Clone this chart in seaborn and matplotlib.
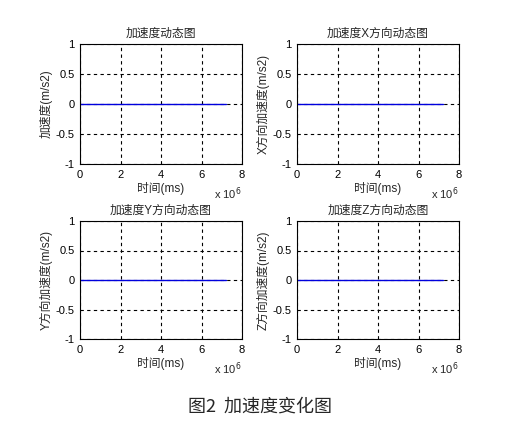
import matplotlib
matplotlib.use("Agg")
import matplotlib.pyplot as plt
import seaborn as sns
import pandas as pd

# data: all four series stay at 0 up to about 7.2e6 ms
time_ms = [0, 1.2e6, 2.4e6, 3.6e6, 4.8e6, 6.0e6, 7.2e6]
acc_total = [0, 0, 0, 0, 0, 0, 0]
acc_x = [0, 0, 0, 0, 0, 0, 0]
acc_y = [0, 0, 0, 0, 0, 0, 0]
acc_z = [0, 0, 0, 0, 0, 0, 0]

titles = ["加速度动态图", "加速度X方向动态图", "加速度Y方向动态图", "加速度Z方向动态图"]
ylabels = ["加速度(m/s2)", "X方向加速度(m/s2)", "Y方向加速度(m/s2)", "Z方向加速度(m/s2)"]
xticks = [0, 2e6, 4e6, 6e6, 8e6]
xtick_labels = ["0", "2", "4", "6", "8"]
yticks = [-1, -0.5, 0, 0.5, 1]
ytick_labels = ["-1", "-0.5", "0", "0.5", "1"]
caption = "图2  加速度变化图"

sns.set_style("white")
plt.rcParams["font.family"] = ["Liberation Sans", "Noto Sans CJK SC", "DejaVu Sans"]
plt.rcParams["axes.unicode_minus"] = False

fig = plt.figure(figsize=(5.29, 4.28), dpi=100)
W, H = 529, 428
# axes boxes in pixels: left, top, right, bottom
boxes = [(80, 44, 242, 164), (297, 44, 459, 164),
         (80, 221, 242, 339), (297, 221, 459, 339)]
series = [acc_total, acc_x, acc_y, acc_z]

for box, vals, title, ylab in zip(boxes, series, titles, ylabels):
    l, t, r, b = box
    ax = fig.add_axes([l / W, 1 - b / H, (r - l) / W, (b - t) / H])
    df = pd.DataFrame({"t": time_ms, "a": vals})
    sns.lineplot(data=df, x="t", y="a", ax=ax, color="#0000dd", linewidth=1.0)
    ax.set_xlim(0, 8e6)
    ax.set_ylim(-1, 1)
    ax.set_xticks(xticks)
    ax.set_xticklabels(xtick_labels)
    ax.set_yticks(yticks)
    ax.set_yticklabels(ytick_labels)
    ax.grid(True, color="black", linestyle=(0, (3, 3)), linewidth=0.8)
    ax.tick_params(direction="in", length=3, labelsize=8, colors="black", pad=4)
    for s in ax.spines.values():
        s.set_color("black")
        s.set_linewidth(0.8)
    ax.set_title(title, fontsize=8.5, pad=5)
    ax.set_xlabel("时间(ms)", fontsize=8.5, labelpad=2)
    ax.set_ylabel(ylab, fontsize=8.5, labelpad=2)
    ax.text(1.0, -0.25, "x 10$^6$", transform=ax.transAxes, ha="right",
            va="center", fontsize=8)

fig.text(260 / W, 1 - 407 / H, caption, ha="center", va="center", fontsize=13,
         family=["Noto Sans CJK SC", "DejaVu Sans"])

fig.savefig("out.png", dpi=100, facecolor="white")
